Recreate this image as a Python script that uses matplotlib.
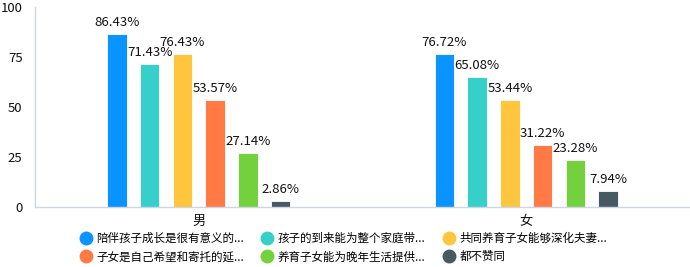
import numpy as np
import matplotlib.pyplot as plt
from matplotlib.lines import Line2D

plt.rcParams['font.family'] = ['Noto Sans CJK SC', 'DejaVu Sans']

# data
groups = ['男', '女']
series = ['陪伴孩子成长是很有意义的...', '孩子的到来能为整个家庭带...', '共同养育子女能够深化夫妻...',
          '子女是自己希望和寄托的延...', '养育子女能为晚年生活提供...', '都不赞同']
values = [
    [86.43, 76.72],
    [71.43, 65.08],
    [76.43, 53.44],
    [53.57, 31.22],
    [27.14, 23.28],
    [2.86, 7.94],
]
yticks = [0, 25, 50, 75, 100]
colors = ['#0a94ff', '#36cfc9', '#ffc53d', '#ff7a45', '#73d13d', '#475a63']

fig = plt.figure(figsize=(6.9, 2.67), dpi=100)
ax = fig.add_axes([0.0507, 0.2247, 0.9493, 0.749])

x = np.arange(len(groups))
step = 0.1
width = 0.06
for i, (name, vals) in enumerate(zip(series, values)):
    pos = x + (i - 2.5) * step
    ax.bar(pos, vals, width=width, color=colors[i], edgecolor='white', linewidth=0.6, label=name)
    for p, v in zip(pos, vals):
        ax.text(p, v + 2.5, '%.2f%%' % v, ha='center', va='bottom', fontsize=9.5, color='#111111')

ax.set_xlim(-0.5, 1.5)
ax.set_ylim(0, 100)
ax.set_yticks(yticks)
ax.set_xticks(x)
ax.set_xticklabels(groups, fontsize=9.5)
ax.tick_params(axis='both', length=0, labelsize=9.5, colors='#111111')
ax.tick_params(axis='x', pad=6)
ax.tick_params(axis='y', pad=9)
for s in ['top', 'right']:
    ax.spines[s].set_visible(False)
for s in ['left', 'bottom']:
    ax.spines[s].set_color('#cdd6e8')
    ax.spines[s].set_linewidth(1)

# legend, filled row by row
order = [0, 3, 1, 4, 2, 5]
handles = [Line2D([], [], marker='o', linestyle='none', markersize=9, color=colors[k]) for k in order]
labels = [series[k] for k in order]
fig.legend(handles, labels, loc='lower left', bbox_to_anchor=(0.099, -0.025), ncol=3, frameon=False,
           fontsize=8.3, handletextpad=0.3, columnspacing=1.45, labelspacing=0.45, handlelength=1.2)

plt.savefig('out.png', dpi=100)
